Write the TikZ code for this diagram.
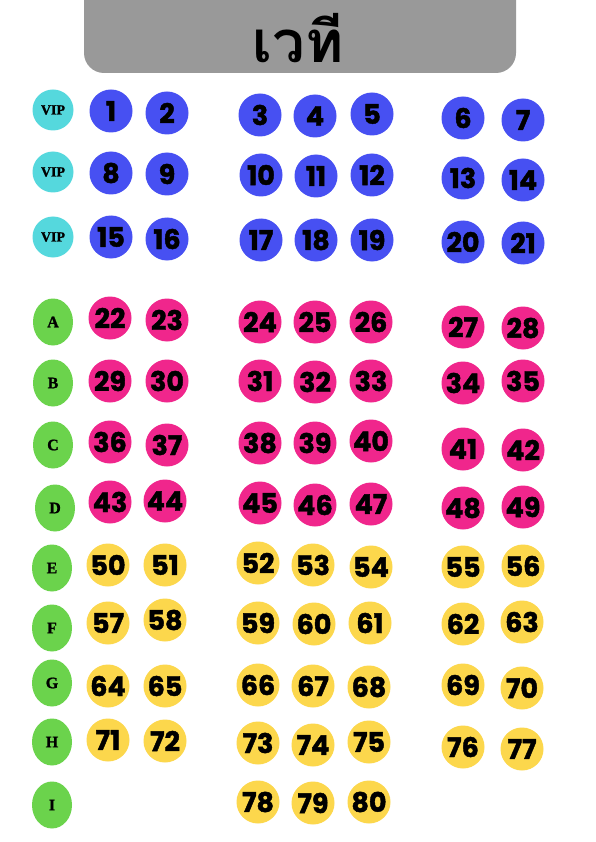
\documentclass[tikz,border=0pt]{standalone}
\usepackage{fontspec}
\newfontfamily\thaifont[Script=Thai]{Loma}
\newfontfamily\numfont{Poppins}[BoldFeatures={FakeBold=1.6}]
\newfontfamily\lblfont{Liberation Serif}[BoldFeatures={FakeBold=1.2}]
\definecolor{hdr}{HTML}{999999}
\definecolor{seatblue}{HTML}{4750F2}
\definecolor{seatpink}{HTML}{F0268C}
\definecolor{seatyellow}{HTML}{FCD74C}
\definecolor{rowgreen}{HTML}{6BD34C}
\definecolor{vipcyan}{HTML}{55D8DD}
\usetikzlibrary{shapes.geometric}
\tikzset{
  seat/.style={circle, minimum size=43pt, inner sep=0pt, font=\numfont\bfseries\fontsize{27}{27}\selectfont, text=black},
  bseat/.style={seat, fill=seatblue},
  pseat/.style={seat, fill=seatpink},
  yseat/.style={seat, fill=seatyellow},
  vipbox/.style={circle, minimum size=41pt, inner sep=0pt, fill=vipcyan, font=\lblfont\bfseries\fontsize{14}{14}\selectfont},
  rowbox/.style={ellipse, minimum width=40pt, minimum height=47pt, inner sep=0pt, fill=rowgreen, font=\lblfont\bfseries\fontsize{16}{16}\selectfont},
  header/.style={fill=hdr, rounded corners=20pt}
}
\begin{document}
\begin{tikzpicture}[x=1pt,y=-1pt]
\useasboundingbox (0,0) rectangle (595,842);
\fill[white] (0,0) rectangle (595,842);
\fill[header] (84,-40) rectangle (516,73);
\node[font=\thaifont\bfseries\fontsize{58}{58}\selectfont, text=black, inner sep=0pt] (title) at (298,38) {เวที};
% VIP labels
\node[vipbox] (v1) at (53,110) {VIP};
\node[vipbox] (v2) at (53,172) {VIP};
\node[vipbox] (v3) at (53,237) {VIP};
% row labels
\foreach \l/\x/\y in {A/53/322, B/53/383, C/53/445, D/55/508, E/52/568, F/52/628, G/52/683, H/52/742, I/52/805}
  \node[rowbox] (r\l) at (\x,\y) {\l};
% blue seats
\foreach \n/\x/\y in {1/111/111, 2/167/113, 3/260/115, 4/315/116, 5/372/114, 6/463/118, 7/523/120,
  8/111/173, 9/167/174, 10/261/175, 11/316/176, 12/372/175, 13/463/178, 14/523/180,
  15/111/237, 16/167/239, 17/261/240, 18/316/240, 19/372/240, 20/463/242, 21/523/243}
  \node[bseat] (s\n) at (\x,\y) {\n};
% pink seats
\foreach \n/\x/\y in {22/110/318, 23/167/320, 24/260/322, 25/315/322, 26/371/322, 27/463/327, 28/523/328,
  29/110/381, 30/167/381, 31/260/381, 32/315/382, 33/371/381, 34/463/383, 35/523/381,
  36/110/442, 37/167/445, 38/260/443, 39/315/443, 40/371/441, 41/463/449, 42/523/450,
  43/110/502, 44/165/501, 45/260/503, 46/315/505, 47/371/504, 48/463/508, 49/523/507}
  \node[pseat] (s\n) at (\x,\y) {\n};
% yellow seats
\foreach \n/\x/\y in {50/108/565, 51/165/565, 52/258/563, 53/313/565, 54/371/567, 55/463/567, 56/523/566,
  57/108/623, 58/165/620, 59/258/623, 60/314/624, 61/370/623, 62/463/624, 63/522/622,
  64/108/686, 65/165/686, 66/258/685, 67/313/686, 68/369/687, 69/463/685, 70/522/688,
  71/108/740, 72/165/741, 73/258/743, 74/313/745, 75/369/742, 76/463/747, 77/522/749,
  78/258/802, 79/313/803, 80/369/802}
  \node[yseat] (s\n) at (\x,\y) {\n};
\end{tikzpicture}
\end{document}
